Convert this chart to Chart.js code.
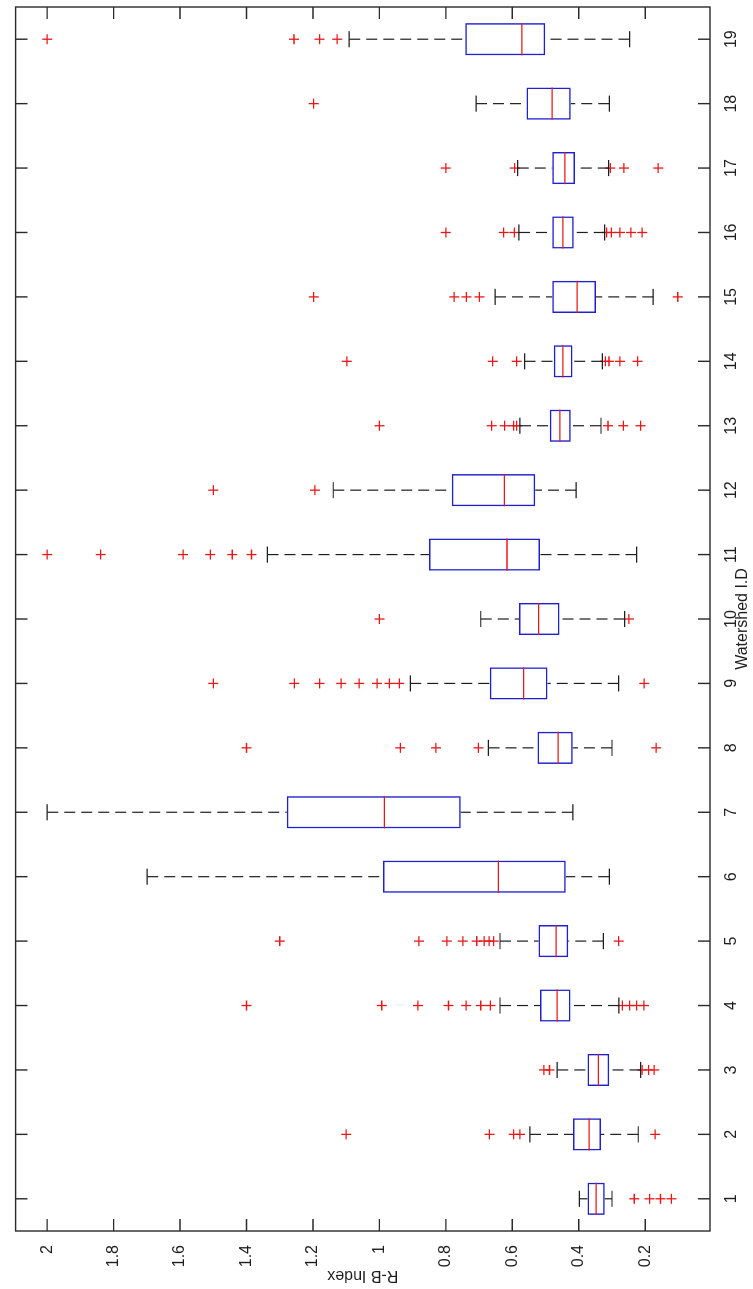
<!DOCTYPE html>
<html>
<head>
<meta charset="utf-8">
<title>R-B Index por cuenca</title>
<script src="https://cdn.jsdelivr.net/npm/chart.js@4.4.1/dist/chart.umd.min.js"></script>
<style>
    html, body { margin: 0; padding: 0; background: #fff; overflow: hidden; width: 753px; height: 1289px; }
    /* El gráfico original está girado 90° a la izquierda */
    #marco {
        position: absolute; left: 0; top: 0;
        width: 1289px; height: 753px;
        transform-origin: 0 0;
        transform: translate(0, 1289px) rotate(-90deg);
    }
    #cajasChart { display: block; width: 1289px; height: 753px; }
</style>
</head>
<body>
<div id="marco"><canvas id="cajasChart" width="1289" height="753"></canvas></div>
<script>
// Datos: una caja por cuenca
const cuencas = ['1', '2', '3', '4', '5', '6', '7', '8', '9', '10',
                 '11', '12', '13', '14', '15', '16', '17', '18', '19'];
const bigoteInferior = [0.300, 0.221, 0.214, 0.279, 0.326, 0.308, 0.418, 0.300, 0.280, 0.262,
                        0.226, 0.408, 0.333, 0.329, 0.176, 0.322, 0.310, 0.308, 0.247];
const cuartil1 = [0.322, 0.333, 0.308, 0.425, 0.432, 0.439, 0.755, 0.418, 0.494, 0.458,
                  0.517, 0.531, 0.424, 0.419, 0.348, 0.415, 0.411, 0.424, 0.501];
const mediana = [0.348, 0.369, 0.341, 0.465, 0.468, 0.642, 0.985, 0.462, 0.566, 0.521,
                 0.616, 0.624, 0.457, 0.448, 0.405, 0.448, 0.442, 0.480, 0.571];
const cuartil3 = [0.374, 0.417, 0.374, 0.517, 0.521, 0.989, 1.279, 0.524, 0.668, 0.580,
                  0.851, 0.782, 0.487, 0.475, 0.480, 0.480, 0.480, 0.557, 0.742];
const bigoteSuperior = [0.398, 0.547, 0.465, 0.637, 0.637, 1.699, 2.000, 0.672, 0.907, 0.695,
                        1.337, 1.139, 0.577, 0.563, 0.652, 0.580, 0.584, 0.709, 1.091];
const atipicos = [
    [0.233, 0.187, 0.154, 0.121],
    [1.10, 0.669, 0.596, 0.577, 0.170],
    [0.505, 0.488, 0.209, 0.190, 0.173],
    [1.40, 0.993, 0.884, 0.792, 0.739, 0.695, 0.666, 0.269, 0.247, 0.226, 0.204],
    [1.30, 0.881, 0.797, 0.749, 0.707, 0.685, 0.670, 0.656, 0.280],
    [],
    [],
    [1.40, 0.937, 0.830, 0.702, 0.167],
    [1.50, 1.256, 1.180, 1.115, 1.061, 1.007, 0.970, 0.940, 0.203],
    [1.00, 0.249],
    [2.00, 1.839, 1.591, 1.509, 1.443, 1.385],
    [1.50, 1.194],
    [1.00, 0.662, 0.623, 0.596, 0.587, 0.312, 0.266, 0.214],
    [1.098, 0.659, 0.587, 0.320, 0.309, 0.276, 0.223],
    [1.198, 0.775, 0.738, 0.699, 0.102],
    [0.80, 0.626, 0.594, 0.316, 0.302, 0.276, 0.243, 0.209],
    [0.80, 0.593, 0.305, 0.264, 0.161],
    [1.198],
    [2.00, 1.257, 1.180, 1.127]
];
const marcasY = [0.2, 0.4, 0.6, 0.8, 1, 1.2, 1.4, 1.6, 1.8, 2];

const AZUL = 'rgb(32, 32, 210)';
const ROJO = 'rgb(232, 24, 24)';
const NEGRO = '#1e1e1e';
const fuente = { family: '"Liberation Sans", Arial, sans-serif', size: 16 };

// Plugin: bigotes, medianas y el marco con marcas hacia dentro (estilo MATLAB)
const partesCaja = {
    id: 'partesCaja',
    afterDatasetsDraw(chart) {
        const { ctx, scales: { x, y } } = chart;
        const ancho = x.getPixelForValue(1) - x.getPixelForValue(0);
        ctx.save();
        cuencas.forEach((c, i) => {
            const px = x.getPixelForValue(i);
            const yQ1 = y.getPixelForValue(cuartil1[i]);
            const yQ3 = y.getPixelForValue(cuartil3[i]);
            const yMin = y.getPixelForValue(bigoteInferior[i]);
            const yMax = y.getPixelForValue(bigoteSuperior[i]);

            // bigotes discontinuos
            ctx.strokeStyle = NEGRO;
            ctx.lineWidth = 1.2;
            ctx.setLineDash([11, 6]);
            ctx.beginPath();
            ctx.moveTo(px, yMax); ctx.lineTo(px, yQ3);
            ctx.moveTo(px, yMin); ctx.lineTo(px, yQ1);
            ctx.stroke();

            // topes de los bigotes
            ctx.setLineDash([]);
            ctx.beginPath();
            ctx.moveTo(px - ancho * 0.125, yMax); ctx.lineTo(px + ancho * 0.125, yMax);
            ctx.moveTo(px - ancho * 0.125, yMin); ctx.lineTo(px + ancho * 0.125, yMin);
            ctx.stroke();

            // mediana
            const yMed = y.getPixelForValue(mediana[i]);
            ctx.strokeStyle = ROJO;
            ctx.lineWidth = 1.3;
            ctx.beginPath();
            ctx.moveTo(px - ancho * 0.25, yMed); ctx.lineTo(px + ancho * 0.25, yMed);
            ctx.stroke();
        });
        ctx.restore();
    },
    afterDraw(chart) {
        const { ctx, chartArea: a, scales: { x, y } } = chart;
        const largo = 12;
        ctx.save();
        ctx.strokeStyle = '#2a2a2a';
        ctx.lineWidth = 1.4;
        ctx.strokeRect(a.left, a.top, a.right - a.left, a.bottom - a.top);
        ctx.beginPath();
        marcasY.forEach(v => {
            const py = y.getPixelForValue(v);
            ctx.moveTo(a.left, py); ctx.lineTo(a.left + largo, py);
            ctx.moveTo(a.right, py); ctx.lineTo(a.right - largo, py);
        });
        cuencas.forEach((c, i) => {
            const px = x.getPixelForValue(i);
            ctx.moveTo(px, a.bottom); ctx.lineTo(px, a.bottom - largo);
            ctx.moveTo(px, a.top); ctx.lineTo(px, a.top + largo);
        });
        ctx.stroke();
        ctx.restore();
    }
};

function crearGraficoCajas() {
    const ctx = document.getElementById('cajasChart').getContext('2d');

    // Preparar cajas (Q1-Q3) y puntos atípicos
    const cajas = cuencas.map((c, i) => [cuartil1[i], cuartil3[i]]);
    const puntos = [];
    atipicos.forEach((lista, i) => {
        lista.forEach(v => puntos.push({ x: cuencas[i], y: v }));
    });

    new Chart(ctx, {
        type: 'bar',
        data: {
            labels: cuencas,
            datasets: [{
                type: 'bar',
                label: 'Caja',
                data: cajas,
                backgroundColor: 'rgba(0,0,0,0)',
                borderColor: AZUL,
                borderWidth: 1.5,
                borderSkipped: false,
                categoryPercentage: 0.5,
                barPercentage: 1.0,
                order: 2
            }, {
                type: 'scatter',
                label: 'Atípicos',
                data: puntos,
                pointStyle: 'cross',
                pointRadius: 5,
                pointBorderColor: ROJO,
                pointBorderWidth: 1.3,
                order: 1
            }]
        },
        options: {
            responsive: false,
            animation: false,
            events: [],
            layout: { padding: { top: 11, right: 7, left: 0, bottom: 0 } },
            plugins: {
                legend: { display: false },
                tooltip: { enabled: false }
            },
            scales: {
                x: {
                    type: 'category',
                    offset: true,
                    grid: { display: false },
                    border: { display: false },
                    ticks: { font: fuente, color: NEGRO, padding: 4, maxRotation: 0, autoSkip: false },
                    title: {
                        display: true,
                        text: 'Watershed I.D',
                        font: fuente,
                        color: NEGRO,
                        padding: { top: 0, bottom: 0.4 }
                    },
                    afterFit(s) { s.height = 43; }
                },
                y: {
                    type: 'linear',
                    min: 0.005,
                    max: 2.095,
                    grid: { display: false },
                    border: { display: false },
                    afterBuildTicks(s) { s.ticks = marcasY.map(v => ({ value: v })); },
                    ticks: {
                        font: fuente,
                        color: NEGRO,
                        padding: 6,
                        callback: v => String(Math.round(v * 10) / 10)
                    },
                    title: {
                        display: true,
                        text: 'R-B Index',
                        font: fuente,
                        color: NEGRO,
                        padding: { top: 4.4, bottom: 0 }
                    },
                    afterFit(s) { s.width = 58; }
                }
            }
        },
        plugins: [partesCaja]
    });
}

window.onload = crearGraficoCajas;
</script>
</body>
</html>
